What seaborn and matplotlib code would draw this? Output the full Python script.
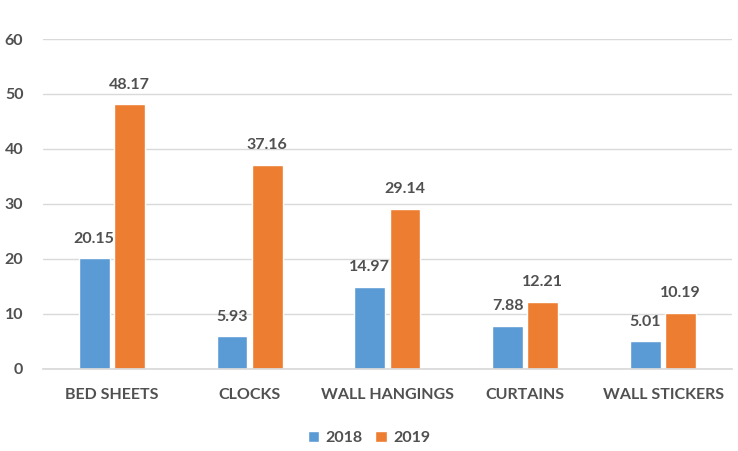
import matplotlib
matplotlib.use("Agg")
import matplotlib.pyplot as plt
import seaborn as sns
import pandas as pd

categories = ["BED SHEETS", "CLOCKS", "WALL HANGINGS", "CURTAINS", "WALL STICKERS"]
values_2018 = [20.15, 5.93, 14.97, 7.88, 5.01]
values_2019 = [48.17, 37.16, 29.14, 12.21, 10.19]
series = ["2018", "2019"]
yticks = [0, 10, 20, 30, 40, 50, 60]

df = pd.DataFrame({
    "category": categories * 2,
    "value": values_2018 + values_2019,
    "year": [series[0]] * len(categories) + [series[1]] * len(categories),
})

sns.set_theme(style="white")
plt.rcParams["font.family"] = ["Lato", "DejaVu Sans"]
text_color = "#505050"

fig = plt.figure(figsize=(7.38, 4.51), dpi=100)
ax = fig.add_axes([0.058, 0.182, 0.934, 0.7315])

sns.barplot(data=df, x="category", y="value", hue="year", order=categories,
            hue_order=series, palette=["#5B9BD5", "#ED7D31"], width=0.51, gap=0.12,
            saturation=1, ax=ax, legend=True)

for cont in ax.containers:
    ax.bar_label(cont, labels=[f"{v:.2f}" for v in cont.datavalues], padding=9,
                 fontsize=11.5, fontweight="bold", color=text_color)

ax.set_ylim(0, 60)
ax.set_yticks(yticks)
ax.set_xlim(-0.5, len(categories) - 0.5)
ax.yaxis.grid(True, color="#D9D9D9", linewidth=1)
ax.set_axisbelow(True)
for s in ["top", "right", "left"]:
    ax.spines[s].set_visible(False)
ax.spines["bottom"].set_color("#D9D9D9")
ax.set_xlabel("")
ax.set_ylabel("")
ax.tick_params(axis="y", length=0, pad=14, labelsize=11.5, labelcolor=text_color)
ax.tick_params(axis="x", length=0, pad=14, labelsize=11.5, labelcolor=text_color)
for lab in ax.get_xticklabels() + ax.get_yticklabels():
    lab.set_fontweight("bold")

handles, labels = ax.get_legend_handles_labels()
ax.legend_.remove()
leg = fig.legend(handles, labels, loc="center", bbox_to_anchor=(0.5, 0.029), ncol=2,
                 frameon=False, fontsize=11.5, handlelength=0.7, handleheight=0.7,
                 handletextpad=0.4, columnspacing=0.8)
for t in leg.get_texts():
    t.set_color(text_color)
    t.set_fontweight("bold")

fig.savefig("out.png", dpi=100)
